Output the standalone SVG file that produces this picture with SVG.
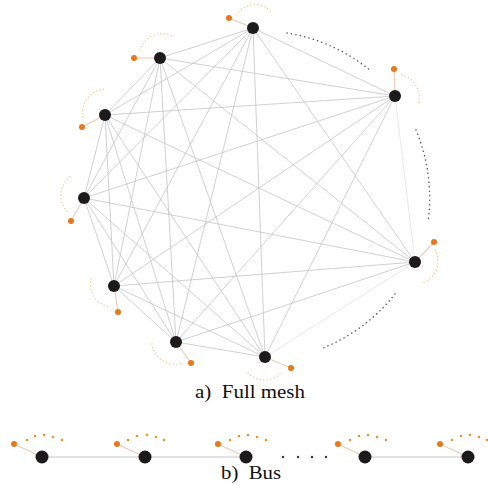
<svg xmlns="http://www.w3.org/2000/svg" width="488" height="484" viewBox="0 0 488 484">
<style>
.e{stroke:#c4c4c4;stroke-width:0.8;fill:none}
.ef{stroke:#e2e2e2;stroke-width:0.8;fill:none}
.n{fill:#1c1a1a}
.o{fill:#e8781e}
.ol{stroke:#f0c8b6;stroke-width:1.1;fill:none}
.oa{stroke:#f3c07e;stroke-width:1.3;fill:none;stroke-dasharray:0.1 3.4;stroke-linecap:round}
.da{stroke:#555;stroke-width:1.5;fill:none;stroke-dasharray:0.1 4.4;stroke-linecap:round}
.bus{stroke:#d8d8d8;stroke-width:1.6}
.sd{fill:#f0902e}
</style>
<rect width="488" height="484" fill="#fff"/>
<g id="connectors">
<line class="e" x1="253" y1="28" x2="160" y2="58"/>
<line class="e" x1="253" y1="28" x2="105" y2="115"/>
<line class="e" x1="253" y1="28" x2="84" y2="198"/>
<line class="e" x1="253" y1="28" x2="114" y2="286"/>
<line class="e" x1="253" y1="28" x2="176" y2="342"/>
<line class="e" x1="253" y1="28" x2="265" y2="357"/>
<line class="e" x1="253" y1="28" x2="415" y2="262"/>
<line class="e" x1="253" y1="28" x2="395" y2="96"/>
<line class="e" x1="160" y1="58" x2="105" y2="115"/>
<line class="e" x1="160" y1="58" x2="84" y2="198"/>
<line class="e" x1="160" y1="58" x2="114" y2="286"/>
<line class="e" x1="160" y1="58" x2="176" y2="342"/>
<line class="e" x1="160" y1="58" x2="265" y2="357"/>
<line class="e" x1="160" y1="58" x2="415" y2="262"/>
<line class="e" x1="160" y1="58" x2="395" y2="96"/>
<line class="e" x1="105" y1="115" x2="84" y2="198"/>
<line class="e" x1="105" y1="115" x2="114" y2="286"/>
<line class="e" x1="105" y1="115" x2="176" y2="342"/>
<line class="e" x1="105" y1="115" x2="265" y2="357"/>
<line class="e" x1="105" y1="115" x2="415" y2="262"/>
<line class="e" x1="105" y1="115" x2="395" y2="96"/>
<line class="e" x1="84" y1="198" x2="114" y2="286"/>
<line class="e" x1="84" y1="198" x2="176" y2="342"/>
<line class="e" x1="84" y1="198" x2="265" y2="357"/>
<line class="e" x1="84" y1="198" x2="415" y2="262"/>
<line class="e" x1="84" y1="198" x2="395" y2="96"/>
<line class="e" x1="114" y1="286" x2="176" y2="342"/>
<line class="e" x1="114" y1="286" x2="265" y2="357"/>
<line class="e" x1="114" y1="286" x2="415" y2="262"/>
<line class="e" x1="114" y1="286" x2="395" y2="96"/>
<line class="e" x1="176" y1="342" x2="265" y2="357"/>
<line class="e" x1="176" y1="342" x2="415" y2="262"/>
<line class="e" x1="176" y1="342" x2="395" y2="96"/>
<line class="ef" x1="265" y1="357" x2="415" y2="262"/>
<line class="e" x1="265" y1="357" x2="395" y2="96"/>
<line class="ef" x1="415" y1="262" x2="395" y2="96"/>
<line class="ol" x1="253" y1="28" x2="229" y2="18"/>
<line class="ol" x1="160" y1="58" x2="134" y2="58"/>
<line class="ol" x1="105" y1="115" x2="82" y2="127"/>
<line class="ol" x1="84" y1="198" x2="71" y2="221"/>
<line class="ol" x1="114" y1="286" x2="118" y2="312"/>
<line class="ol" x1="176" y1="342" x2="191" y2="363"/>
<line class="ol" x1="265" y1="357" x2="291" y2="368"/>
<line class="ol" x1="415" y1="262" x2="434" y2="242"/>
<line class="ol" x1="395" y1="96" x2="394" y2="69"/>
<path class="oa" d="M237,15 A21,21 0 0 1 272,13"/>
<path class="oa" d="M140,50 A23,23 0 0 1 172,36"/>
<path class="oa" d="M83,117 A24,24 0 0 1 104,89"/>
<path class="oa" d="M70,177 A23,23 0 0 0 68,212"/>
<path class="oa" d="M91,279 A23,23 0 0 0 110,307"/>
<path class="oa" d="M152,344 A23,23 0 0 0 182,363"/>
<path class="oa" d="M248,373 A23,23 0 0 0 281,373"/>
<path class="oa" d="M435,250 A23,23 0 0 1 423,283"/>
<path class="oa" d="M402,75 A23,23 0 0 1 418,105"/>
<path class="da" d="M287,33 A175,175 0 0 1 371,71"/>
<path class="da" d="M416,130 A175,175 0 0 1 428,222"/>
<path class="da" d="M395,294 A175,175 0 0 1 323,348"/>
<line class="bus" x1="42" y1="457" x2="246" y2="457"/>
<line class="bus" x1="365" y1="457" x2="468" y2="457"/>
<line class="ol" x1="42" y1="457" x2="14" y2="444"/>
<line class="ol" x1="145" y1="457" x2="117" y2="444"/>
<line class="ol" x1="246" y1="457" x2="218" y2="444"/>
<line class="ol" x1="365" y1="457" x2="338" y2="444"/>
<line class="ol" x1="468" y1="457" x2="440" y2="444"/>
</g>
<g id="mesh-node-1"><circle class="n" cx="253" cy="28" r="6"/><circle class="o" cx="229" cy="18" r="3"/></g>
<g id="mesh-node-2"><circle class="n" cx="160" cy="58" r="6"/><circle class="o" cx="134" cy="58" r="3"/></g>
<g id="mesh-node-3"><circle class="n" cx="105" cy="115" r="6"/><circle class="o" cx="82" cy="127" r="3"/></g>
<g id="mesh-node-4"><circle class="n" cx="84" cy="198" r="6"/><circle class="o" cx="71" cy="221" r="3"/></g>
<g id="mesh-node-5"><circle class="n" cx="114" cy="286" r="6"/><circle class="o" cx="118" cy="312" r="3"/></g>
<g id="mesh-node-6"><circle class="n" cx="176" cy="342" r="6"/><circle class="o" cx="191" cy="363" r="3"/></g>
<g id="mesh-node-7"><circle class="n" cx="265" cy="357" r="6"/><circle class="o" cx="291" cy="368" r="3"/></g>
<g id="mesh-node-8"><circle class="n" cx="415" cy="262" r="6"/><circle class="o" cx="434" cy="242" r="3"/></g>
<g id="mesh-node-9"><circle class="n" cx="395" cy="96" r="6"/><circle class="o" cx="394" cy="69" r="3"/></g>
<g id="bus-node-1"><circle class="n" cx="42" cy="457" r="6.5"/><circle class="o" cx="14" cy="444" r="3"/>
<circle class="sd" cx="27" cy="440" r="1.3"/><circle class="sd" cx="35" cy="436" r="1.3"/><circle class="sd" cx="44" cy="435" r="1.3"/><circle class="sd" cx="53" cy="437" r="1.3"/><circle class="sd" cx="62" cy="440" r="1.3"/></g>
<g id="bus-node-2"><circle class="n" cx="145" cy="457" r="6.5"/><circle class="o" cx="117" cy="444" r="3"/>
<circle class="sd" cx="128" cy="440" r="1.3"/><circle class="sd" cx="137" cy="436" r="1.3"/><circle class="sd" cx="147" cy="435" r="1.3"/><circle class="sd" cx="156" cy="437" r="1.3"/><circle class="sd" cx="164" cy="440" r="1.3"/></g>
<g id="bus-node-3"><circle class="n" cx="246" cy="457" r="6.5"/><circle class="o" cx="218" cy="444" r="3"/>
<circle class="sd" cx="230" cy="440" r="1.3"/><circle class="sd" cx="239" cy="436" r="1.3"/><circle class="sd" cx="248" cy="435" r="1.3"/><circle class="sd" cx="257" cy="437" r="1.3"/><circle class="sd" cx="266" cy="440" r="1.3"/></g>
<g id="bus-node-4"><circle class="n" cx="365" cy="457" r="6.5"/><circle class="o" cx="338" cy="444" r="3"/>
<circle class="sd" cx="350" cy="440" r="1.3"/><circle class="sd" cx="359" cy="436" r="1.3"/><circle class="sd" cx="368" cy="435" r="1.3"/><circle class="sd" cx="377" cy="437" r="1.3"/><circle class="sd" cx="386" cy="440" r="1.3"/></g>
<g id="bus-node-5"><circle class="n" cx="468" cy="457" r="6.5"/><circle class="o" cx="440" cy="444" r="3"/>
<circle class="sd" cx="452" cy="440" r="1.3"/><circle class="sd" cx="461" cy="436" r="1.3"/><circle class="sd" cx="470" cy="435" r="1.3"/><circle class="sd" cx="479" cy="437" r="1.3"/><circle class="sd" cx="487" cy="440" r="1.3"/></g>
<g id="bus-gap"><circle fill="#333" cx="283" cy="457" r="1.2"/><circle fill="#333" cx="298" cy="457" r="1.2"/><circle fill="#333" cx="312" cy="457" r="1.2"/><circle fill="#333" cx="326" cy="457" r="1.2"/></g>
<g id="labels" font-family="'Liberation Serif', 'Times New Roman', serif" fill="#111">
<text x="195" y="398" font-size="19" textLength="110" lengthAdjust="spacingAndGlyphs" xml:space="preserve">a)  Full mesh</text>
<text x="221" y="479" font-size="19" textLength="60" lengthAdjust="spacingAndGlyphs" xml:space="preserve">b)  Bus</text>
</g>
</svg>
